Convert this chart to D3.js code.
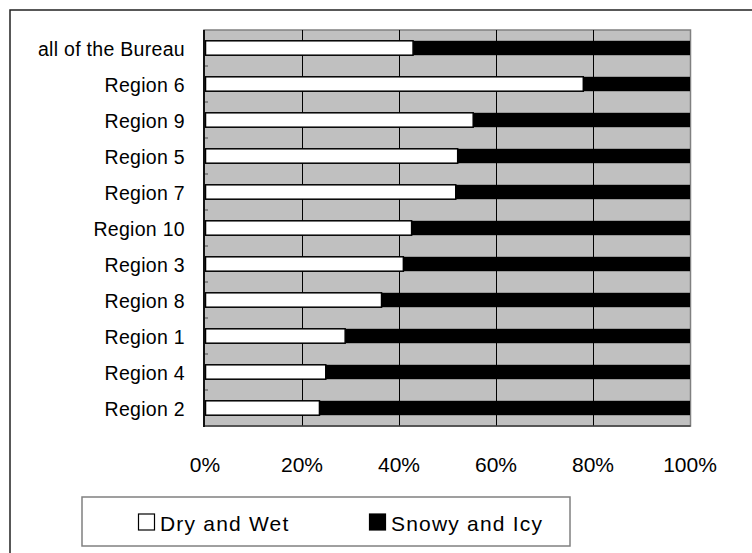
<!DOCTYPE html>
<html>
<head>
<meta charset="utf-8">
<script src="https://cdn.jsdelivr.net/npm/d3@7"></script>
<style>
  html, body { margin: 0; padding: 0; background: #fff; }
  svg { display: block; }
  text { font-family: "Liberation Sans", Arial, sans-serif; fill: #000; }
</style>
</head>
<body>
<svg id="chart" width="752" height="553"></svg>
<script>
const categories = ["all of the Bureau", "Region 6", "Region 9", "Region 5", "Region 7",
  "Region 10", "Region 3", "Region 8", "Region 1", "Region 4", "Region 2"];
const dryWet = [42.9, 78.0, 55.3, 52.1, 51.7, 42.6, 40.9, 36.4, 28.9, 24.9, 23.6];
const snowyIcy = dryWet.map(v => 100 - v);
const seriesNames = ["Dry and Wet", "Snowy and Icy"];
const tickValues = [0, 20, 40, 60, 80, 100];
const tickLabels = ["0%", "20%", "40%", "60%", "80%", "100%"];

const svg = d3.select("#chart");

// outer frame (extends past the right/bottom edge)
svg.append("rect").attr("x", 10).attr("y", 10).attr("width", 800).attr("height", 600)
  .attr("fill", "#fff").attr("stroke", "#222").attr("stroke-width", 1.5);

const plot = { left: 204, top: 30, right: 690.5, bottom: 426 };
const x = d3.scaleLinear().domain([0, 100]).range([205, 690]);
const y = d3.scaleBand().domain(categories).range([plot.top, plot.bottom])
  .paddingInner(0.6).paddingOuter(0.3);

// plot background
svg.append("rect").attr("x", plot.left).attr("y", plot.top)
  .attr("width", plot.right - plot.left).attr("height", plot.bottom - plot.top)
  .attr("fill", "#c0c0c0").attr("stroke", "#808080").attr("stroke-width", 1.5);

// gridlines
svg.append("g").selectAll("line").data(tickValues.slice(1, -1)).join("line")
  .attr("x1", d => Math.round(x(d)) + 0.5).attr("x2", d => Math.round(x(d)) + 0.5)
  .attr("y1", plot.top).attr("y2", plot.bottom)
  .attr("stroke", "#000").attr("stroke-width", 1);

// bottom border darker
svg.append("line").attr("x1", plot.left).attr("x2", plot.right)
  .attr("y1", plot.bottom).attr("y2", plot.bottom)
  .attr("stroke", "#404040").attr("stroke-width", 1.5);

// bars
const rows = categories.map((c, i) => ({ cat: c, dry: dryWet[i], snow: snowyIcy[i] }));
const bars = svg.append("g");
bars.selectAll("rect.snow").data(rows).join("rect").attr("class", "snow")
  .attr("x", d => x(d.dry)).attr("y", d => y(d.cat))
  .attr("width", d => x(100) - x(d.dry)).attr("height", y.bandwidth())
  .attr("fill", "#000");
bars.selectAll("rect.dry").data(rows).join("rect").attr("class", "dry")
  .attr("x", x(0) + 0.5).attr("y", d => y(d.cat))
  .attr("width", d => x(d.dry) - x(0) - 0.5).attr("height", y.bandwidth())
  .attr("fill", "#fff").attr("stroke", "#000").attr("stroke-width", 1.5);

// category axis line and ticks
const bounds = d3.range(categories.length + 1).map(i => plot.top + i * y.step());
svg.append("g").selectAll("line").data(bounds.slice(1)).join("line")
  .attr("x1", plot.left).attr("x2", plot.left + 4)
  .attr("y1", d => d).attr("y2", d => d)
  .attr("stroke", "#606060").attr("stroke-width", 1.2);
svg.append("line").attr("x1", plot.left).attr("x2", plot.left)
  .attr("y1", plot.top).attr("y2", plot.bottom + 1)
  .attr("stroke", "#111").attr("stroke-width", 2);

// category labels
svg.append("g").selectAll("text").data(categories).join("text")
  .attr("x", 185).attr("y", d => y(d) + y.bandwidth() / 2 + 7.5)
  .attr("text-anchor", "end").attr("font-size", "19.5px").attr("letter-spacing", "0.3px")
  .text(d => d);

// value tick labels
svg.append("g").selectAll("text").data(tickValues).join("text")
  .attr("x", d => x(d)).attr("y", 471.5)
  .attr("text-anchor", "middle").attr("font-size", "21px")
  .text((d, i) => tickLabels[i]);

// legend
svg.append("rect").attr("x", 82).attr("y", 497).attr("width", 488).attr("height", 49)
  .attr("fill", "#fff").attr("stroke", "#808080").attr("stroke-width", 1.5);
const legendX = [138, 369];
const legendFill = ["#fff", "#000"];
const lg = svg.append("g").selectAll("g").data(seriesNames).join("g")
  .attr("transform", (d, i) => `translate(${legendX[i]},0)`);
lg.append("rect").attr("x", 0.5).attr("y", 514).attr("width", 16).attr("height", 16)
  .attr("fill", (d, i) => legendFill[i]).attr("stroke", "#000").attr("stroke-width", 1.2);
lg.append("text").attr("x", 22).attr("y", 531)
  .attr("font-size", "21px").attr("letter-spacing", "1.2px")
  .text(d => d);
</script>
</body>
</html>
